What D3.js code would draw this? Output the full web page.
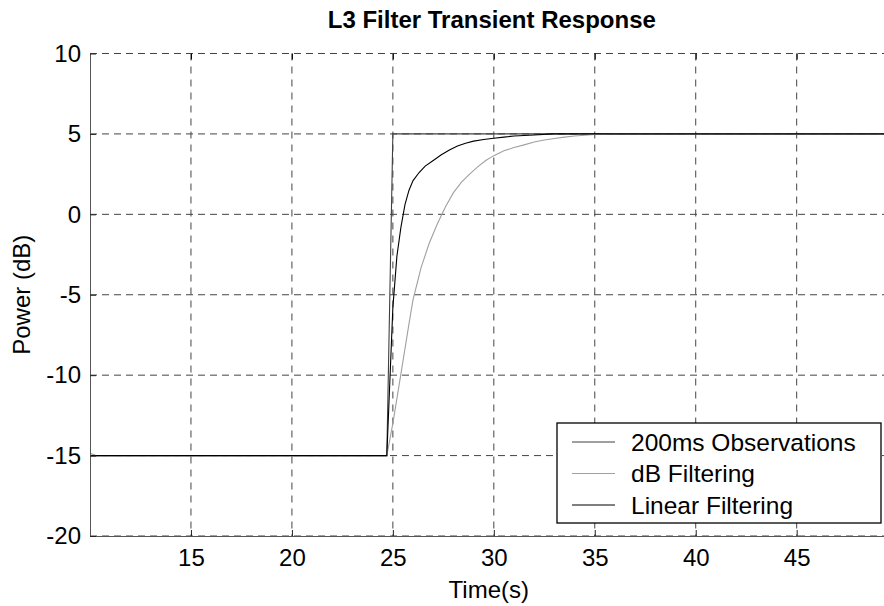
<!DOCTYPE html>
<html>
<head>
<meta charset="utf-8">
<script src="https://cdn.jsdelivr.net/npm/d3@7"></script>
<style>
  body { margin: 0; background: #fff; }
  svg { font-family: "Liberation Sans", Arial, sans-serif; }
</style>
</head>
<body>
<div id="chart-area"></div>
<script>
// tick values
var xTicks = [15, 20, 25, 30, 35, 40, 45];
var yTicks = [-20, -15, -10, -5, 0, 5, 10];

// 200ms observations (step at 25 s)
var obsTime  = [10, 24.7, 25.0, 49.8];
var obsPower = [-15, -15, 5, 5];

// dB domain filtering (grey)
var dbTime  = [10, 10.3, 24.7, 25.0, 25.4, 25.8, 26.0, 26.4, 26.8, 27.2, 27.6, 28.0, 28.4, 28.8, 29.2, 29.6,
               30.0, 30.5, 31.0, 31.5, 32.0, 32.5, 33.0, 33.5, 34.0, 34.5, 35.0, 35.7, 49.8];
var dbPower = [-14.85, -15, -15, -13.0, -9.9, -6.8, -5.3, -3.3, -1.8, -0.6, 0.45, 1.35, 2.0, 2.5, 2.95, 3.35,
               3.65, 3.95, 4.15, 4.32, 4.5, 4.62, 4.72, 4.8, 4.87, 4.92, 4.96, 5, 5];

// linear domain filtering (black)
var linTime  = [10, 24.7, 25.0, 25.2, 25.4, 25.6, 25.8, 26.0, 26.3, 26.6, 27.0, 27.4, 27.8, 28.2, 28.6, 29.0,
                29.5, 30.0, 30.5, 31.0, 31.5, 32.0, 32.9, 49.8];
var linPower = [-15, -15, -5.8, -2.6, -0.8, 0.6, 1.5, 2.1, 2.6, 3.0, 3.35, 3.7, 4.0, 4.25, 4.42, 4.55,
                4.65, 4.73, 4.8, 4.87, 4.9, 4.93, 5, 5];

var seriesNames = ["200ms Observations", "dB Filtering", "Linear Filtering"];
var seriesColors = ["#404040", "#a0a0a0", "#000000"];

var margin = {top: 53.5, left: 90},
    width = 803.6,
    height = 482.5;

var svg = d3.select("#chart-area").append("svg")
    .attr("width", 884)
    .attr("height", 606);

var g = svg.append("g")
    .attr("transform", "translate(" + margin.left + "," + margin.top + ")");

var x = d3.scaleLinear().domain([10, 49.8]).range([0, width]);
var y = d3.scaleLinear().domain([-20, 10]).range([height, 0]);

// grid
g.selectAll(".vgrid").data(xTicks).enter().append("line")
    .attr("x1", function(d) { return x(d); })
    .attr("x2", function(d) { return x(d); })
    .attr("y1", 0).attr("y2", height)
    .attr("stroke", "#444").attr("stroke-dasharray", "7,6");

g.selectAll(".hgrid").data(yTicks).enter().append("line")
    .attr("x1", 0).attr("x2", width)
    .attr("y1", function(d) { return y(d); })
    .attr("y2", function(d) { return y(d); })
    .attr("stroke", "#444").attr("stroke-dasharray", "7,5");

// lines
var line = d3.line()
    .x(function(d) { return x(d[0]); })
    .y(function(d) { return y(d[1]); });

var series = [
    d3.zip(obsTime, obsPower),
    d3.zip(dbTime, dbPower),
    d3.zip(linTime, linPower)
];

series.forEach(function(s, i) {
    g.append("path")
        .datum(s)
        .attr("fill", "none")
        .attr("stroke", seriesColors[i])
        .attr("stroke-width", 1.1)
        .attr("d", line);
});

// axes (plain hyphen for negatives, like the original)
var fmt = function(d) { return String(d); };

var xAxis = g.append("g")
    .attr("transform", "translate(0," + height + ")")
    .call(d3.axisBottom(x).tickValues(xTicks).tickFormat(fmt)
        .tickSizeInner(-6).tickSizeOuter(0).tickPadding(13));

var yAxis = g.append("g")
    .call(d3.axisLeft(y).tickValues(yTicks).tickFormat(fmt)
        .tickSizeInner(-6).tickSizeOuter(0).tickPadding(9));

g.append("g")
    .call(d3.axisTop(x).tickValues(xTicks).tickSizeInner(-6).tickSizeOuter(0).tickFormat(""))
    .select(".domain").remove();

[xAxis, yAxis].forEach(function(a) {
    a.select(".domain").attr("stroke", "#555");
    a.selectAll(".tick line").attr("stroke", "#222");
    a.selectAll("text").attr("fill", "#000").style("font-size", "24px")
        .style("font-family", "'Liberation Sans', Arial, sans-serif");
});

// title and labels
svg.append("text")
    .attr("x", margin.left + width / 2)
    .attr("y", 28)
    .attr("text-anchor", "middle")
    .attr("font-weight", "bold")
    .style("font-size", "24px")
    .text("L3 Filter Transient Response");

svg.append("text")
    .attr("x", margin.left + width / 2 - 3)
    .attr("y", 598)
    .attr("text-anchor", "middle")
    .style("font-size", "24px")
    .text("Time(s)");

svg.append("text")
    .attr("transform", "translate(30," + (margin.top + height / 2) + ") rotate(-90)")
    .attr("text-anchor", "middle")
    .style("font-size", "24px")
    .text("Power (dB)");

// legend
var legend = svg.append("g").attr("transform", "translate(557,423)");

legend.append("rect")
    .attr("width", 324)
    .attr("height", 100)
    .attr("fill", "#fff")
    .attr("stroke", "#000")
    .attr("stroke-width", 1.3);

seriesNames.forEach(function(name, i) {
    var yy = 19 + i * 31.5;
    legend.append("line")
        .attr("x1", 15).attr("x2", 58)
        .attr("y1", yy).attr("y2", yy)
        .attr("stroke", seriesColors[i]);
    legend.append("text")
        .attr("x", 74)
        .attr("y", yy)
        .attr("dy", "0.35em")
        .style("font-size", "24.5px")
        .text(name);
});
</script>
</body>
</html>
